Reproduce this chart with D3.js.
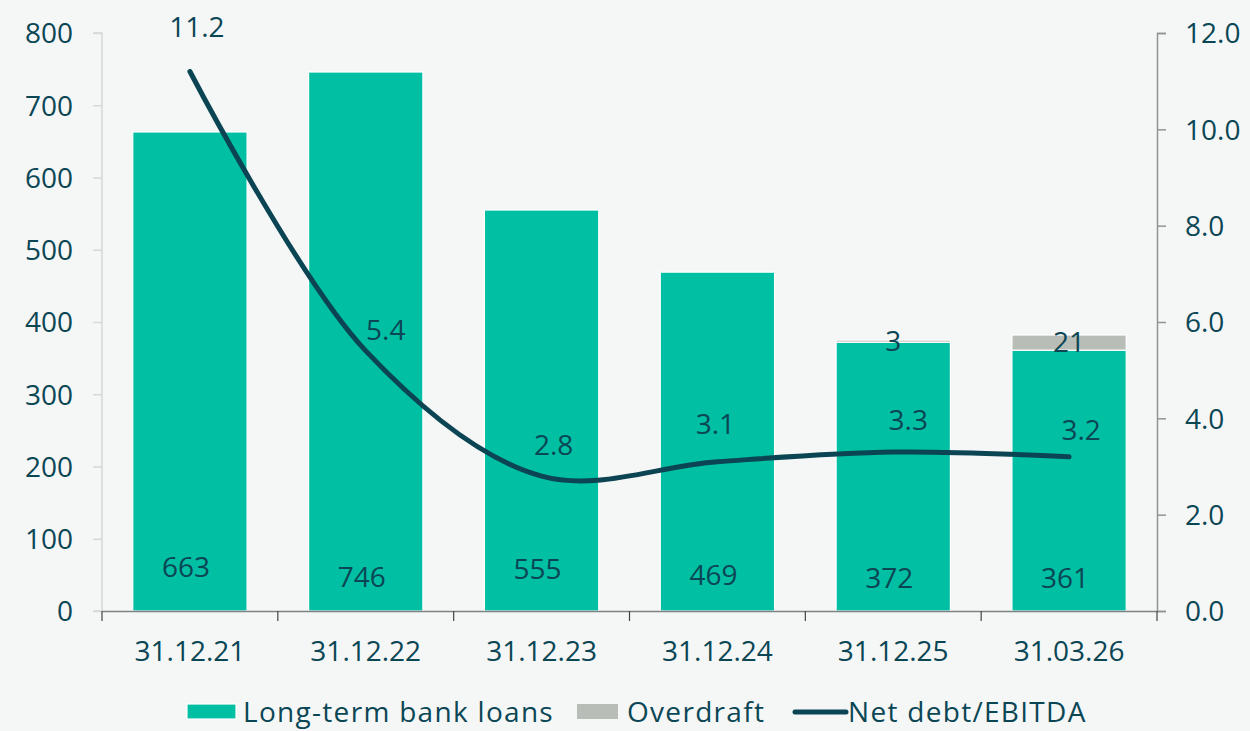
<!DOCTYPE html>
<html><head><meta charset="utf-8">
<script src="https://cdn.jsdelivr.net/npm/d3@7"></script>
<style>
html,body{margin:0;padding:0;background:#f5f7f7;}
text{font-family:"Open Sans",Lato,sans-serif;fill:#0b4655;}
</style></head>
<body>
<svg id="c" width="1250" height="731"></svg>
<script>
const categories = ["31.12.21","31.12.22","31.12.23","31.12.24","31.12.25","31.03.26"];
const longTermLoans = [663, 746, 555, 469, 372, 361];
const overdraft = [0, 0, 0, 0, 3, 21];
const netDebtEbitda = [11.2, 5.4, 2.8, 3.1, 3.3, 3.2];
const leftTicks = [0,100,200,300,400,500,600,700,800];
const rightTicks = [0,2,4,6,8,10,12];
const seriesNames = ["Long-term bank loans","Overdraft","Net debt/EBITDA"];

// label placement (annotation layout only)
const lineLabelDx = [7, 20, 12, -2, 15, 12];
const lineLabelDy = [-44, -21, -31, -37, -32, -27];
const barLabelY = [567, 577, 569, 575, 578, 578];

const FS = "28px";
const teal = "#00bfa3", grey = "#b9bdb7", dark = "#0b4453";
const svg = d3.select("#c");
const m = {l:102, r:1157, t:33, b:611};

const x = d3.scaleBand().domain(categories).range([m.l, m.r]).paddingInner(0.35).paddingOuter(0.175);
const xb = d3.scaleBand().domain(categories).range([m.l, m.r]);
const yL = d3.scaleLinear().domain([0,800]).range([m.b, m.t]);
const yR = d3.scaleLinear().domain([0,12]).range([m.b, m.t]);

// left axis
const gl = svg.append("g").attr("transform",`translate(${m.l},0)`)
  .call(d3.axisLeft(yL).tickValues(leftTicks).tickSize(9).tickPadding(20).tickFormat(d3.format("d")));
gl.selectAll("path,line").attr("stroke","#d6d8d8").attr("stroke-width",1.5);
gl.selectAll("text").style("font-size",FS).attr("dy","0.35em");
gl.select(".domain").attr("d",`M-9,${m.t}H0V${m.b}H-9`);

// right axis
const gr = svg.append("g").attr("transform",`translate(${m.r},0)`)
  .call(d3.axisRight(yR).tickValues(rightTicks).tickSize(9).tickPadding(19).tickFormat(d3.format(".1f")));
gr.selectAll("path,line").attr("stroke","#8f9393").attr("stroke-width",1.5);
gr.selectAll("text").style("font-size",FS).attr("dy","0.35em");

// stacked data
const stack = d3.stack().keys(["lt","od"])(categories.map((c,i)=>({cat:c, lt:longTermLoans[i], od:overdraft[i]})));
const colors = [teal, grey];
stack.forEach((s,si)=>{
  svg.append("g").selectAll("rect").data(s.filter(d=>d[1]-d[0]>0)).join("rect")
    .attr("x",d=>x(d.data.cat)).attr("width",x.bandwidth())
    .attr("y",d=>yL(d[1])).attr("height",d=>yL(d[0])-yL(d[1]))
    .attr("fill",colors[si]).attr("stroke","#ffffff").attr("stroke-width",1.2);
});

// bottom axis
const gb = svg.append("g").attr("transform",`translate(0,${m.b})`)
  .call(d3.axisBottom(xb).tickSize(0).tickPadding(40));
gb.select(".domain").attr("stroke","#7d8282").attr("stroke-width",1.5);
gb.selectAll("text").style("font-size",FS).attr("dy","0.35em");
svg.append("g").selectAll("line").data(d3.range(categories.length+1)).join("line")
  .attr("x1",i=>m.l+i*xb.step()).attr("x2",i=>m.l+i*xb.step())
  .attr("y1",m.b).attr("y2",m.b+10).attr("stroke","#444").attr("stroke-width",1.2);

// bar labels
svg.append("g").selectAll("text").data(longTermLoans).join("text")
  .attr("x",(d,i)=>x(categories[i])+x.bandwidth()/2 - 4).attr("y",(d,i)=>barLabelY[i])
  .attr("text-anchor","middle").attr("dy","0.35em").style("font-size",FS).text(d=>d);
svg.append("g").selectAll("text").data(stack[1].filter(d=>d[1]-d[0]>0)).join("text")
  .attr("x",d=>x(d.data.cat)+x.bandwidth()/2).attr("y",d=>(yL(d[0])+yL(d[1]))/2)
  .attr("text-anchor","middle").attr("dy","0.35em").style("font-size",FS).text(d=>d[1]-d[0]);

// line
const cx = c => x(c)+x.bandwidth()/2;
const line = d3.line().x((d,i)=>cx(categories[i])).y(d=>yR(d)).curve(d3.curveCatmullRom.alpha(0.5));
svg.append("path").datum(netDebtEbitda).attr("d",line).attr("fill","none")
  .attr("stroke",dark).attr("stroke-width",5).attr("stroke-linecap","round");
svg.append("g").selectAll("text").data(netDebtEbitda).join("text")
  .attr("x",(d,i)=>cx(categories[i])+lineLabelDx[i]).attr("y",(d,i)=>yR(d)+lineLabelDy[i])
  .attr("text-anchor","middle").attr("dy","0.35em").style("font-size",FS).text(d=>d.toFixed(1));

// legend
const LY = 712;
const lg = svg.append("g");
lg.append("rect").attr("x",187).attr("y",LY-8).attr("width",49).attr("height",15).attr("fill",teal).attr("stroke","#fff").attr("stroke-width",1.2);
lg.append("text").attr("x",243).attr("y",LY).attr("dy","0.35em").style("font-size",FS).style("letter-spacing","1.3px").text(seriesNames[0]);
lg.append("rect").attr("x",577).attr("y",LY-8).attr("width",41).attr("height",15).attr("fill",grey);
lg.append("text").attr("x",627).attr("y",LY).attr("dy","0.35em").style("font-size",FS).style("letter-spacing","1.3px").text(seriesNames[1]);
lg.append("line").attr("x1",795).attr("x2",846).attr("y1",LY).attr("y2",LY).attr("stroke",dark).attr("stroke-width",5).attr("stroke-linecap","round");
lg.append("text").attr("x",848).attr("y",LY).attr("dy","0.35em").style("font-size",FS).style("letter-spacing","1.3px").text(seriesNames[2]);
</script>
</body></html>
